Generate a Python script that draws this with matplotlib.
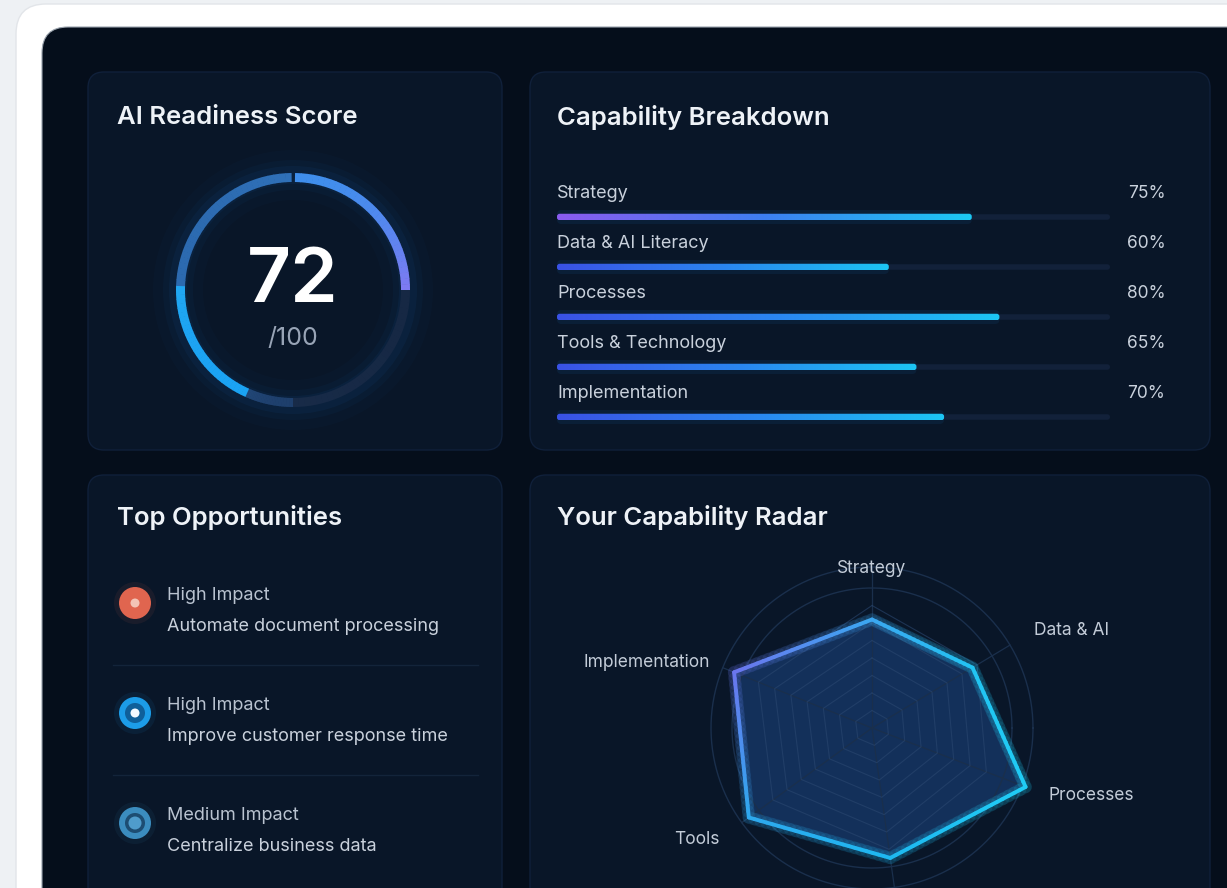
import numpy as np
import matplotlib.pyplot as plt
from matplotlib.patches import FancyBboxPatch, Wedge, Circle, Polygon
from matplotlib.collections import LineCollection
from matplotlib.colors import LinearSegmentedColormap, to_rgb

plt.rcParams['font.family'] = ['Inter', 'DejaVu Sans']

# -----------------------------
# Data
# -----------------------------
score = 72
score_max = 100

cap_labels = ["Strategy", "Data & AI Literacy", "Processes",
              "Tools & Technology", "Implementation"]
cap_values = [75, 60, 80, 65, 70]

opp_impacts = ["High Impact", "High Impact", "Medium Impact"]
opp_texts = ["Automate document processing",
             "Improve customer response time",
             "Centralize business data"]

radar_labels = ["Strategy", "Data & AI", "Processes", "", "Tools", "Implementation"]
radar_values = [62, 67, 94, 75, 87, 85]

# -----------------------------
# Figure / pixel canvas
# -----------------------------
W, H = 1227, 888
fig = plt.figure(figsize=(W / 100, H / 100), dpi=100, facecolor='#eef1f4')

ax = fig.add_axes([0, 0, 1, 1])
ax.set_xlim(0, W)
ax.set_ylim(H, 0)
ax.axis('off')


def px_axes(x0, y0, x1, y1):
    a = fig.add_axes([x0 / W, 1 - y1 / H, (x1 - x0) / W, (y1 - y0) / H])
    a.set_facecolor('none')
    a.axis('off')
    return a


def rbox(a, x, y, w, h, r, **kw):
    p = FancyBboxPatch((x, y), w, h, boxstyle=f"round,pad=0,rounding_size={r}", **kw)
    a.add_patch(p)
    return p


# white card + dark dashboard
rbox(ax, 16, 4, 1400, 1000, 30, fc='white', ec='#e2e5e9', lw=1)
rbox(ax, 42, 27, 1400, 1000, 26, fc='#050e1b', ec='#9aa3ad', lw=0.8)

panels = [(88, 72, 502, 450), (530, 72, 1210, 450),
          (88, 475, 502, 1000), (530, 475, 1210, 1000)]
for x0, y0, x1, y1 in panels:
    rbox(ax, x0, y0, x1 - x0, y1 - y0, 16, fc='#091628', ec='#10203a', lw=1)

title_kw = dict(fontsize=18.5, weight='semibold', color='#eef2f7', va='center')
ax.text(117, 118, "AI Readiness Score", **title_kw)
ax.text(557, 118, "Capability Breakdown", **title_kw)
ax.text(117, 517, "Top Opportunities", **title_kw)
ax.text(557, 517, "Your Capability Radar", **title_kw)

# -----------------------------
# Gauge
# -----------------------------
ag = px_axes(293 - 150, 290 - 150, 293 + 150, 290 + 150)
ag.set_xlim(-150, 150)
ag.set_ylim(-150, 150)

for rr, ww, al in [(140, 50, 0.025), (130, 30, 0.04), (124, 18, 0.06)]:
    ag.add_patch(Wedge((0, 0), rr, 0, 360, width=ww, fc='#1f7fe0', ec='none', alpha=al))

# (start, end) clockwise from top, colour at start / end
gauge_style = [(1, 90, '#3f8eec', '#7d7af2'),
               (90, 180, '#162844', '#182b48'),
               (180, 204, '#1e3f6c', '#214676'),
               (204, 272, '#1ba3f3', '#20a6f2'),
               (272, 359, '#2c6ab0', '#2f70b8')]
R_out, R_w = 117, 9
for c1, c2, col1, col2 in gauge_style:
    n = 30
    cs = np.linspace(c1, c2, n + 1)
    ca, cb = np.array(to_rgb(col1)), np.array(to_rgb(col2))
    for k in range(n):
        f = (k / (n - 1)) ** 2
        ag.add_patch(Wedge((0, 0), R_out, 90 - cs[k + 1] - 0.3, 90 - cs[k],
                           width=R_w, fc=ca + (cb - ca) * f, ec='none'))

ag.text(0, 8, f"{score}", fontsize=55, weight='semibold', color='white',
        ha='center', va='center')
ag.text(0, -48, f"/{score_max}", fontsize=18, color='#98a4b6', ha='center', va='center')

# -----------------------------
# Capability breakdown bars
# -----------------------------
ab = px_axes(557, 172, 1110, 432)
ab.set_xlim(0, 100)
ab.set_ylim(4.3, -0.9)
m_asp = (1 / 50) / (100 / 553)

cm_first = LinearSegmentedColormap.from_list('p', ['#8b5cf0', '#3d7ff0', '#1ccaf5'])
cm_rest = LinearSegmentedColormap.from_list('b', ['#3a52e6', '#2a86f0', '#1cc6f5'])
grad = np.linspace(0, 1, 256).reshape(1, -1)

for i, (lab, v) in enumerate(zip(cap_labels, cap_values)):
    ab.text(0, i - 0.48, lab, fontsize=13, color='#c9d1dc', va='center')
    ab.text(110, i - 0.48, f"{v}%", fontsize=12.5, color='#c9d1dc', va='center',
            ha='right', clip_on=False)
    rbox(ab, 0, i - 0.055, 100, 0.11, 0.5, fc='#12213a', ec='none', mutation_aspect=m_asp)
    rbox(ab, 0, i - 0.14, v, 0.28, 0.8, fc='#1a8ff0', ec='none', alpha=0.08,
         mutation_aspect=m_asp)
    clip = rbox(ab, 0, i - 0.065, v, 0.13, 0.5, fc='none', ec='none', mutation_aspect=m_asp)
    im = ab.imshow(grad, extent=(0, v, i + 0.065, i - 0.065), aspect='auto',
                   cmap=cm_first if i == 0 else cm_rest, zorder=3)
    im.set_clip_path(clip)

# -----------------------------
# Top opportunities
# -----------------------------
icon_style = [('#e0654f', '#e0654f', '#f3c4b6', 4.5),
              ('#1c9ce8', '#0f5f9a', '#f2f8ff', 4.5),
              ('#3b8cbe', '#1d4d72', '#4f9ccc', 6.5)]
for i, (imp, txt) in enumerate(zip(opp_impacts, opp_texts)):
    yc = 603 + 110 * i
    c_out, c_mid, c_in, r_in = icon_style[i]
    ax.add_patch(Circle((135, yc), 21, fc=c_out, ec='none', alpha=0.08))
    ax.add_patch(Circle((135, yc), 16, fc=c_out, ec='none'))
    ax.add_patch(Circle((135, yc), 10, fc=c_mid, ec='none'))
    ax.add_patch(Circle((135, yc), r_in, fc=c_in, ec='none'))
    ax.text(167, yc - 8, imp, fontsize=13, color='#b9c3d0', va='center')
    ax.text(167, yc + 23, txt, fontsize=13, color='#c9d1dc', va='center')
    if i < len(opp_texts) - 1:
        ax.plot([113, 478], [yc + 62, yc + 62], color='#13243a', lw=1)

# -----------------------------
# Radar
# -----------------------------
S = 240
scale = 1.75  # px per unit
ar = px_axes(872 - S, 728 - S, 872 + S, 728 + S)
ar.set_xlim(-S / scale, S / scale)
ar.set_ylim(-S / scale, S / scale)

n = len(radar_values)
# spoke directions as drawn in the reference (slightly uneven)
ang = np.radians([90, 31, -21, -82, 216, 158])
ux, uy = np.cos(ang), np.sin(ang)
grid_c = '#1a2f4c'

t = np.linspace(0, 2 * np.pi, 300)
for rc in [80, 92]:
    ar.plot(rc * np.cos(t), rc * np.sin(t), color=grid_c, lw=1)
for k in range(n):
    ar.plot([0, 92 * ux[k]], [0, 92 * uy[k]], color=grid_c, lw=0.9)

vals = np.array(radar_values, dtype=float)
px_, py_ = vals * ux, vals * uy
ar.add_patch(Polygon(np.c_[px_, py_], closed=True, fc='#173a6c', ec='none', alpha=0.75))

for rl in [10, 20, 30, 40, 50, 60, 70]:
    ar.plot(np.r_[rl * ux, rl * ux[0]], np.r_[rl * uy, rl * uy[0]],
            color='#2a4770', lw=0.8, alpha=0.6)

vcols = ['#3aa8f0', '#22c4f2', '#20ccf5', '#1eb8f0', '#2ea8ee', '#6b76ee']
segs, cols = [], []
for k in range(n):
    k2 = (k + 1) % n
    ca, cb = np.array(to_rgb(vcols[k])), np.array(to_rgb(vcols[k2]))
    fs = np.linspace(0, 1, 25)
    xs = px_[k] + (px_[k2] - px_[k]) * fs
    ys = py_[k] + (py_[k2] - py_[k]) * fs
    for j in range(len(fs) - 1):
        segs.append([(xs[j], ys[j]), (xs[j + 1], ys[j + 1])])
        cols.append(ca + (cb - ca) * fs[j])
ar.add_collection(LineCollection(segs, colors=cols, linewidths=9, alpha=0.12,
                                 capstyle='round'))
ar.add_collection(LineCollection(segs, colors=cols, linewidths=2.8, capstyle='round'))

for k, lab in enumerate(radar_labels):
    if abs(ux[k]) < 0.1:
        ha, rl = 'center', 91
    elif ux[k] < -0.9:
        ha, rl = 'right', 100
    else:
        ha, rl = ('left' if ux[k] > 0 else 'right'), 108
    ar.text(rl * ux[k], rl * uy[k], lab, fontsize=12.5, color='#c3ccd8',
            ha=ha, va='center', clip_on=False)

fig.savefig('out.png', dpi=100, facecolor=fig.get_facecolor())
